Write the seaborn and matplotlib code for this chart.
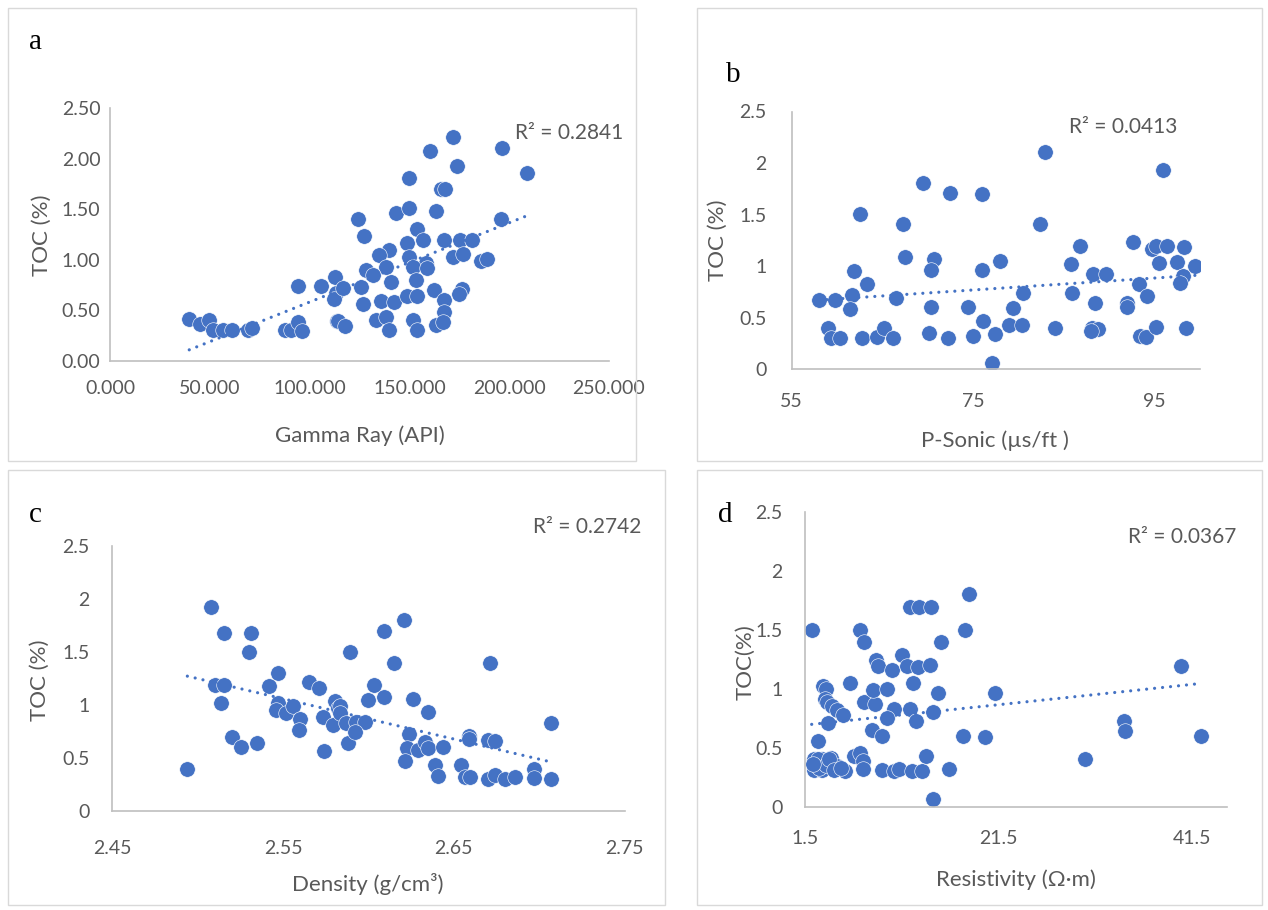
import matplotlib
matplotlib.use("Agg")
import matplotlib.pyplot as plt
from matplotlib.patches import Rectangle
from matplotlib.ticker import FuncFormatter
import pandas as pd
import seaborn as sns

# ---- (a) Gamma ray vs TOC ----
gamma_ray = [39.7, 45.0, 49.7, 51.7, 56.7, 61.0, 69.0, 71.0, 87.5, 90.8, 94.0, 96.0,
             94.0, 105.5, 112.5, 113.0, 112.0, 113.7,
             171.7, 160.5, 196.3, 173.8, 208.8, 149.7, 166.0, 168.0, 195.8, 124.0,
             143.3, 150.0, 163.3, 127.5, 153.8, 167.5, 175.5, 181.3, 157.0, 148.8,
             140.0, 135.0, 150.0, 158.3, 171.7, 177.0, 185.8, 189.0, 138.3, 151.7,
             159.0, 153.3, 128.3, 131.7, 116.7, 125.8, 141.0, 126.7, 135.8, 142.5,
             148.7, 154.0, 162.2, 167.5, 176.3, 175.0, 167.5, 114.0, 117.5, 133.3,
             138.3, 140.0, 151.7, 154.0, 163.3, 166.7]
toc_gamma = [0.42, 0.37, 0.41, 0.31, 0.31, 0.31, 0.31, 0.33, 0.31, 0.31, 0.39, 0.30,
             0.74, 0.74, 0.83, 0.67, 0.61, 0.40,
             2.22, 2.08, 2.11, 1.93, 1.86, 1.81, 1.70, 1.70, 1.41, 1.41,
             1.47, 1.51, 1.49, 1.24, 1.31, 1.20, 1.20, 1.20, 1.20, 1.17,
             1.10, 1.05, 1.03, 0.97, 1.03, 1.06, 0.99, 1.01, 0.93, 0.93,
             0.92, 0.80, 0.90, 0.85, 0.72, 0.73, 0.78, 0.56, 0.59, 0.58,
             0.64, 0.64, 0.70, 0.60, 0.71, 0.66, 0.49, 0.40, 0.35, 0.41,
             0.44, 0.31, 0.41, 0.31, 0.36, 0.39]

# ---- (b) P-sonic vs TOC ----
p_sonic = [58.0, 59.8, 59.0, 59.3, 60.3, 61.7, 61.4, 61.9, 63.3, 62.5, 62.8, 64.4,
           65.2, 66.2, 66.5, 67.3, 67.5, 69.5, 72.5, 70.7, 70.4, 70.4, 70.2, 72.2,
           74.5, 75.0, 76.0, 76.0, 76.1, 77.4, 77.1, 78.0, 79.0, 80.4, 79.4, 80.5,
           82.4, 82.9, 84.0, 85.8, 86.8, 85.9, 88.2, 89.7, 88.5, 88.1, 88.8, 88.0,
           92.0, 92.0, 92.7, 93.3, 94.2, 93.4, 94.1, 95.2, 94.7, 95.2, 96.4, 98.3,
           96.0, 95.5, 97.5, 99.5, 98.2, 97.8, 98.5]
toc_sonic = [0.67, 0.67, 0.40, 0.30, 0.30, 0.72, 0.58, 0.95, 0.83, 1.51, 0.30, 0.31,
             0.40, 0.30, 0.69, 1.41, 1.09, 1.81, 1.71, 1.07, 0.96, 0.60, 0.35, 0.30,
             0.60, 0.32, 1.70, 0.96, 0.47, 0.34, 0.06, 1.05, 0.43, 0.43, 0.59, 0.74,
             1.41, 2.11, 0.40, 1.02, 1.20, 0.74, 0.92, 0.92, 0.64, 0.40, 0.39, 0.37,
             0.64, 0.60, 1.23, 0.83, 0.71, 0.32, 0.31, 0.41, 1.17, 1.20, 1.20, 1.19,
             1.93, 1.03, 1.04, 1.00, 0.90, 0.84, 0.40]

# ---- (c) Bulk density vs TOC ----
density = [2.508, 2.5155, 2.531, 2.530, 2.510, 2.5157, 2.514, 2.520, 2.5255, 2.535,
           2.494, 2.542, 2.547, 2.547, 2.546, 2.552, 2.556, 2.560, 2.5596, 2.565,
           2.571, 2.5805, 2.582, 2.5737, 2.5795, 2.574, 2.588, 2.589, 2.621, 2.609,
           2.615, 2.671, 2.6035, 2.600, 2.609, 2.626, 2.635, 2.5835, 2.5835, 2.587,
           2.593, 2.598, 2.592, 2.624, 2.6225, 2.629, 2.633, 2.635, 2.644, 2.6215,
           2.639, 2.641, 2.6543, 2.6567, 2.6596, 2.6587, 2.6587, 2.670, 2.674, 2.670,
           2.674, 2.680, 2.686, 2.697, 2.697, 2.707, 2.707]
toc_density = [1.92, 1.68, 1.68, 1.50, 1.19, 1.19, 1.02, 0.70, 0.60, 0.64,
               0.40, 1.18, 1.30, 1.02, 0.95, 0.92, 0.99, 0.87, 0.76, 1.22,
               1.16, 1.04, 0.97, 0.89, 0.81, 0.57, 0.64, 1.50, 1.80, 1.70,
               1.40, 1.40, 1.19, 1.05, 1.08, 1.06, 0.93, 0.99, 0.92, 0.83,
               0.84, 0.84, 0.75, 0.73, 0.59, 0.58, 0.65, 0.59, 0.60, 0.47,
               0.43, 0.33, 0.43, 0.32, 0.32, 0.71, 0.68, 0.67, 0.66, 0.30,
               0.34, 0.30, 0.32, 0.40, 0.31, 0.83, 0.30]

# ---- (d) Resistivity vs TOC (low-resistivity samples overlap heavily) ----
resistivity = [2.15, 2.77, 2.42, 2.42, 3.18, 3.25, 4.20, 4.80, 5.60, 3.35, 3.63, 3.53,
               3.76, 4.22, 4.80, 5.35, 3.87, 6.11, 7.14, 7.56, 6.52, 7.14, 7.49, 7.49,
               7.56, 8.69, 8.46, 8.35, 9.39, 9.39, 8.80, 9.04, 9.97, 10.42, 10.69, 9.90,
               10.69, 11.17, 11.55, 11.97, 13.17, 14.38, 12.31, 13.24, 14.55, 12.65,
               12.31, 12.90, 12.55, 13.58, 13.96, 14.66, 14.66, 15.24, 15.49, 16.38,
               17.83, 18.07, 18.41, 20.10, 21.10, 30.40, 34.53, 34.60, 40.40, 42.50,
               2.60, 2.90, 2.80, 3.60, 3.90, 4.50, 5.20, 2.30]
toc_resistivity = [1.50, 0.56, 0.40, 0.31, 0.40, 0.31, 0.41, 0.34, 0.30, 1.02, 1.00, 0.91,
                   0.89, 0.85, 0.82, 0.78, 0.71, 1.05, 1.50, 1.40, 0.43, 0.45, 0.39, 0.32,
                   0.89, 0.87, 0.99, 0.65, 0.60, 0.31, 1.24, 1.19, 1.00, 1.16, 0.83, 0.75,
                   0.30, 0.32, 1.29, 1.19, 1.18, 1.20, 1.69, 1.69, 1.69, 1.05,
                   0.83, 0.73, 0.30, 0.30, 0.43, 0.06, 0.80, 0.96, 1.40, 0.32,
                   0.60, 1.50, 1.80, 0.59, 0.96, 0.40, 0.73, 0.64, 1.19, 0.60,
                   0.35, 0.33, 0.40, 0.35, 0.40, 0.31, 0.33, 0.36]

r2_labels = ["R² = 0.2841", "R² = 0.0413", "R² = 0.2742", "R² = 0.0367"]
panel_letters = ["a", "b", "c", "d"]

sns.set_theme(style="white")
plt.rcParams["font.family"] = ["Lato", "DejaVu Sans"]

BLUE = "#4472C4"
TEXT = "#595959"
AXIS = "#BFBFBF"
FRAME = "#D9D9D9"
W, H = 1268, 910

fig = plt.figure(figsize=(W / 100, H / 100), dpi=100)


def px_rect(x0, y0, x1, y1):
    """Axes rectangle from pixel corners (top-left origin)."""
    return [x0 / W, 1 - y1 / H, (x1 - x0) / W, (y1 - y0) / H]


def fig_xy(x, y):
    return x / W, 1 - y / H


# chart-area frames
for x0, y0, x1, y1 in [(8, 8, 636, 461), (697, 8, 1262, 461),
                       (8, 470, 665, 905), (697, 470, 1262, 905)]:
    fig.add_artist(Rectangle((x0 / W, 1 - y1 / H), (x1 - x0) / W, (y1 - y0) / H,
                             transform=fig.transFigure, fill=False,
                             edgecolor=FRAME, linewidth=1.0))

general = FuncFormatter(lambda v, _: f"{v:g}")

panels = [
    dict(x=gamma_ray, y=toc_gamma, rect=(110, 108.5, 609, 361),
         xlim=(0, 250), xticks=[0, 50, 100, 150, 200, 250],
         xfmt=FuncFormatter(lambda v, _: f"{v:.3f}"),
         yfmt=FuncFormatter(lambda v, _: f"{v:.2f}"),
         xpad=14, ypad=7,
         xlabel="Gamma Ray (API)", xlabel_xy=(360, 436),
         ylabel="TOC (%)", ylabel_xy=(42, 235),
         r2_xy=(515, 133), letter_xy=(35, 42)),
    dict(x=p_sonic, y=toc_sonic, rect=(791.6, 111.5, 1199.7, 369.3),
         xlim=(55, 100), xticks=[55, 75, 95],
         xfmt=general, yfmt=general, xpad=17, ypad=18,
         xlabel="P-Sonic (µs/ft )", xlabel_xy=(995, 441),
         ylabel="TOC (%)", ylabel_xy=(718, 240),
         r2_xy=(1069, 127), letter_xy=(733, 75)),
    dict(x=density, y=toc_density, rect=(112.2, 546, 624.5, 811),
         xlim=(2.45, 2.75), xticks=[2.45, 2.55, 2.65, 2.75],
         xfmt=FuncFormatter(lambda v, _: f"{v:.2f}"), yfmt=general,
         xpad=21, ypad=16.5,
         xlabel="Density (g/cm³)", xlabel_xy=(368, 884),
         ylabel="TOC (%)", ylabel_xy=(40, 680),
         r2_xy=(533, 527), letter_xy=(35, 515)),
    dict(x=resistivity, y=toc_resistivity, rect=(805.4, 512, 1226.5, 806.5),
         xlim=(1.5, 45.1), xticks=[1.5, 21.5, 41.5],
         xfmt=general, yfmt=general, xpad=17, ypad=16.5,
         xlabel="Resistivity (Ω·m)", xlabel_xy=(1016, 880),
         ylabel="TOC(%)", ylabel_xy=(745, 662),
         r2_xy=(1128, 537), letter_xy=(725, 515)),
]

for p, r2, letter in zip(panels, r2_labels, panel_letters):
    ax = fig.add_axes(px_rect(*p["rect"]))
    df = pd.DataFrame({"x": p["x"], "y": p["y"]})
    sns.regplot(data=df, x="x", y="y", ax=ax, ci=None, truncate=True, color=BLUE,
                scatter_kws=dict(s=125, alpha=1, edgecolor="white", linewidths=0.4,
                                 zorder=2),
                line_kws=dict(lw=2.3, linestyle=(0, (0.01, 2.5)),
                              dash_capstyle="round", zorder=3))
    ax.set_xlim(*p["xlim"])
    ax.set_ylim(0, 2.5)
    ax.set_xticks(p["xticks"])
    ax.set_yticks([0, 0.5, 1.0, 1.5, 2.0, 2.5])
    ax.xaxis.set_major_formatter(p["xfmt"])
    ax.yaxis.set_major_formatter(p["yfmt"])
    ax.set_xlabel("")
    ax.set_ylabel("")
    ax.tick_params(axis="both", length=0, colors=TEXT, labelsize=14)
    ax.tick_params(axis="x", pad=p["xpad"])
    ax.tick_params(axis="y", pad=p["ypad"])
    for side in ("top", "right"):
        ax.spines[side].set_visible(False)
    for side in ("left", "bottom"):
        ax.spines[side].set_color(AXIS)
        ax.spines[side].set_linewidth(1.2)
    ax.grid(False)
    ax.set_facecolor("none")

    fx, fy = fig_xy(*p["xlabel_xy"])
    fig.text(fx, fy, p["xlabel"], ha="center", va="center", fontsize=16, color=TEXT)
    fx, fy = fig_xy(*p["ylabel_xy"])
    fig.text(fx, fy, p["ylabel"], ha="center", va="center", rotation=90,
             fontsize=16, color=TEXT)
    fx, fy = fig_xy(*p["r2_xy"])
    fig.text(fx, fy, r2, ha="left", va="center", fontsize=15, color=TEXT)
    fx, fy = fig_xy(*p["letter_xy"])
    fig.text(fx, fy, letter, ha="center", va="center", fontsize=21, color="black",
             family=["Liberation Serif", "DejaVu Serif"])

fig.savefig("out.png", dpi=100, facecolor="white")
